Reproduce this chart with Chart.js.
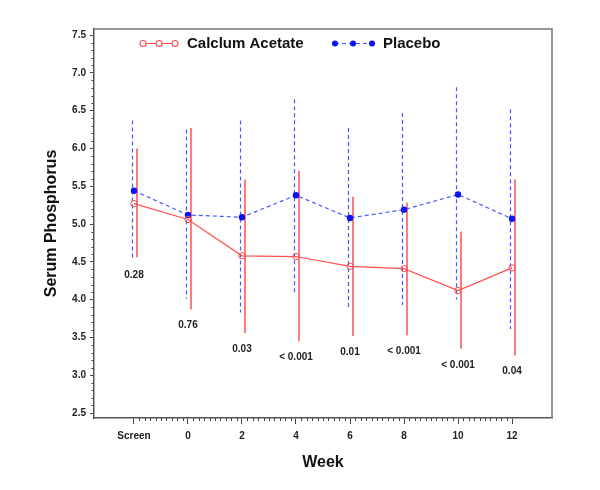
<!DOCTYPE html>
<html lang="en">
<head>
    <meta charset="UTF-8">
    <title>Serum Phosphorus</title>
    <script src="https://cdn.jsdelivr.net/npm/chart.js"></script>
    <style>
        body { margin: 0; background: #fff; }
        canvas { display: block; }
    </style>
</head>
<body>
    <canvas id="grafico" width="600" height="490"></canvas>
<script>
    // dados
    const semanas = [-2, 0, 2, 4, 6, 8, 10, 12];
    const rotulosSemana = ['Screen', '0', '2', '4', '6', '8', '10', '12'];

    const calcioMedia = [5.27, 5.06, 4.58, 4.57, 4.44, 4.41, 4.12, 4.42];
    const calcioSup = [6.00, 6.27, 5.59, 5.70, 5.36, 5.28, 4.90, 5.59];
    const calcioInf = [4.56, 3.87, 3.56, 3.45, 3.52, 3.53, 3.35, 3.26];

    const placeboMedia = [5.44, 5.12, 5.09, 5.38, 5.08, 5.19, 5.39, 5.07];
    const placeboSup = [6.37, 6.25, 6.37, 6.65, 6.27, 6.47, 6.81, 6.52];
    const placeboInf = [4.53, 4.01, 3.83, 4.09, 3.90, 3.93, 4.00, 3.61];

    const valoresP = ['0.28', '0.76', '0.03', '< 0.001', '0.01', '< 0.001', '< 0.001', '0.04'];

    const ticksY = [2.5, 3.0, 3.5, 4.0, 4.5, 5.0, 5.5, 6.0, 6.5, 7.0, 7.5];

    const FONTE = '"Liberation Sans", Arial, Helvetica, sans-serif';
    const VERMELHO = 'rgb(255, 80, 80)';
    const AZUL = 'rgb(70, 90, 255)';
    const AZUL_PONTO = 'rgb(10, 20, 240)';

    const pontos = (ys) => semanas.map((x, i) => ({ x: x, y: ys[i] }));

    const extras = {
        id: 'extras',
        beforeDatasetsDraw(chart) {
            const ctx = chart.ctx;
            const sx = chart.scales.x, sy = chart.scales.y;
            ctx.save();
            // barras do placebo (tracejadas, um pouco a esquerda)
            ctx.strokeStyle = AZUL;
            ctx.lineWidth = 1.2;
            ctx.setLineDash([4, 3]);
            semanas.forEach((w, i) => {
                const x = Math.round(sx.getPixelForValue(w)) - 1.5;
                ctx.beginPath();
                ctx.moveTo(x, sy.getPixelForValue(placeboSup[i]));
                ctx.lineTo(x, sy.getPixelForValue(placeboInf[i]));
                ctx.stroke();
            });
            // barras do acetato (solidas, um pouco a direita)
            ctx.setLineDash([]);
            ctx.strokeStyle = VERMELHO;
            ctx.lineWidth = 1.5;
            semanas.forEach((w, i) => {
                const x = Math.round(sx.getPixelForValue(w)) + 3;
                ctx.beginPath();
                ctx.moveTo(x, sy.getPixelForValue(calcioSup[i]));
                ctx.lineTo(x, sy.getPixelForValue(calcioInf[i]));
                ctx.stroke();
            });
            ctx.restore();
        },
        afterDraw(chart) {
            const ctx = chart.ctx;
            const a = chart.chartArea;
            const sx = chart.scales.x, sy = chart.scales.y;
            ctx.save();

            // moldura
            ctx.strokeStyle = '#777';
            ctx.lineWidth = 1.5;
            ctx.beginPath();
            ctx.moveTo(a.left, a.top);
            ctx.lineTo(a.right, a.top);
            ctx.lineTo(a.right, a.bottom);
            ctx.stroke();

            // ticks menores
            ctx.strokeStyle = '#444';
            ctx.lineWidth = 1;
            for (let v = 25; v <= 75; v++) {
                if (v % 5 === 0) continue;
                const y = Math.round(sy.getPixelForValue(v / 10)) + 0.5;
                ctx.beginPath();
                ctx.moveTo(a.left - 2.5, y);
                ctx.lineTo(a.left, y);
                ctx.stroke();
            }
            for (let v = -10; v <= 60; v++) {
                if (v % 10 === 0) continue;
                const x = Math.round(sx.getPixelForValue(v / 5)) + 0.5;
                ctx.beginPath();
                ctx.moveTo(x, a.bottom);
                ctx.lineTo(x, a.bottom + 3);
                ctx.stroke();
            }

            // valores p abaixo das barras
            ctx.fillStyle = '#222';
            ctx.font = 'bold 10px ' + FONTE;
            ctx.textAlign = 'center';
            ctx.textBaseline = 'middle';
            semanas.forEach((w, i) => {
                const baixo = Math.max(sy.getPixelForValue(calcioInf[i]), sy.getPixelForValue(placeboInf[i]));
                ctx.fillText(valoresP[i], sx.getPixelForValue(w), baixo + 16);
            });

            // legenda
            ctx.lineWidth = 1.2;
            ctx.strokeStyle = VERMELHO;
            ctx.beginPath();
            ctx.moveTo(140, 43.5);
            ctx.lineTo(178, 43.5);
            ctx.stroke();
            [143, 159, 175].forEach(x => {
                ctx.beginPath();
                ctx.arc(x, 43.5, 3, 0, Math.PI * 2);
                ctx.fillStyle = '#fff';
                ctx.fill();
                ctx.stroke();
            });
            ctx.strokeStyle = AZUL;
            ctx.setLineDash([4, 3]);
            ctx.beginPath();
            ctx.moveTo(335, 43.5);
            ctx.lineTo(372, 43.5);
            ctx.stroke();
            ctx.setLineDash([]);
            ctx.fillStyle = AZUL_PONTO;
            [335, 353, 372].forEach(x => {
                ctx.beginPath();
                ctx.arc(x, 43.5, 3, 0, Math.PI * 2);
                ctx.fill();
            });
            ctx.fillStyle = '#111';
            ctx.font = 'bold 15px ' + FONTE;
            ctx.textAlign = 'left';
            ctx.fillText('Calclum Acetate', 187, 44);
            ctx.fillText('Placebo', 383, 44);

            // titulos dos eixos
            ctx.font = 'bold 16px ' + FONTE;
            ctx.textAlign = 'center';
            ctx.fillText('Week', (a.left + a.right) / 2, 463);
            ctx.translate(52, (a.top + a.bottom) / 2);
            ctx.rotate(-Math.PI / 2);
            ctx.fillText('Serum Phosphorus', 0, 0);

            ctx.restore();
        }
    };

    new Chart(document.getElementById('grafico'), {
        type: 'scatter',
        data: {
            datasets: [{
                label: 'Calclum Acetate',
                data: pontos(calcioMedia),
                showLine: true,
                borderColor: VERMELHO,
                borderWidth: 1.2,
                pointStyle: 'circle',
                pointRadius: 3.2,
                pointBorderWidth: 1,
                pointBorderColor: VERMELHO,
                pointBackgroundColor: 'rgba(255,255,255,0)'
            }, {
                label: 'Placebo',
                data: pontos(placeboMedia),
                showLine: true,
                borderColor: AZUL,
                borderWidth: 1.2,
                borderDash: [4, 3],
                pointRadius: 3.2,
                pointBorderWidth: 0,
                pointBackgroundColor: AZUL_PONTO
            }]
        },
        options: {
            responsive: false,
            animation: false,
            layout: { padding: { top: 29, right: 48, left: 0, bottom: 0 } },
            plugins: {
                legend: { display: false },
                tooltip: { enabled: false }
            },
            scales: {
                x: {
                    type: 'linear',
                    min: -3.48,
                    max: 13.48,
                    afterFit: s => { s.height = 72; },
                    afterBuildTicks: s => { s.ticks = semanas.map(v => ({ value: v })); },
                    grid: { drawOnChartArea: false, drawTicks: true, tickLength: 6, color: '#444' },
                    border: { display: true, color: '#555', width: 1.5 },
                    ticks: {
                        autoSkip: false,
                        maxRotation: 0,
                        padding: 6,
                        color: '#222',
                        font: { family: FONTE, size: 10, weight: 'bold' },
                        callback: (v) => rotulosSemana[semanas.indexOf(v)]
                    }
                },
                y: {
                    min: 2.434,
                    max: 7.58,
                    afterFit: s => { s.width = 94; },
                    afterBuildTicks: s => { s.ticks = ticksY.map(v => ({ value: v })); },
                    grid: { drawOnChartArea: false, drawTicks: true, tickLength: 4, color: '#444' },
                    border: { display: true, color: '#555', width: 1.5 },
                    ticks: {
                        padding: 4,
                        color: '#222',
                        font: { family: FONTE, size: 10, weight: 'bold' },
                        callback: (v) => v.toFixed(1)
                    }
                }
            }
        },
        plugins: [extras]
    });
</script>
</body>
</html>
